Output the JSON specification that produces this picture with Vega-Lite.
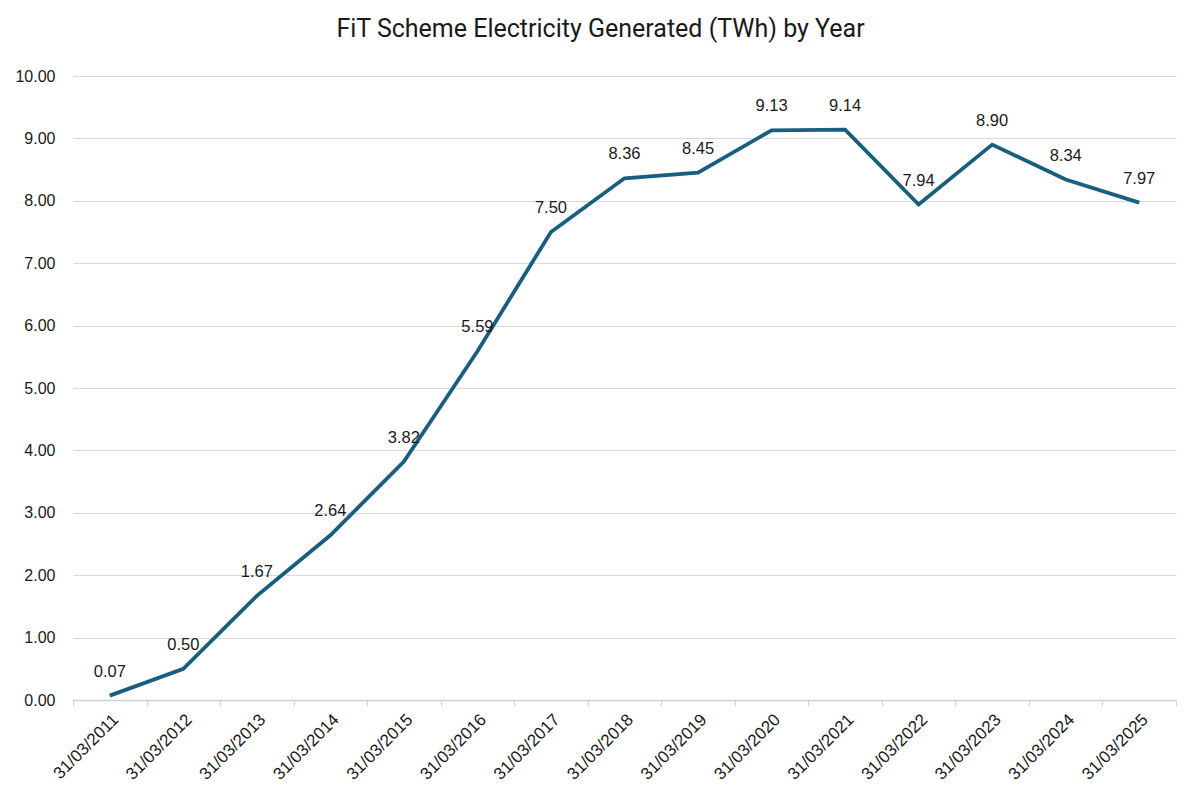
{
  "$schema": "https://vega.github.io/schema/vega-lite/v6.json",
  "autosize": "none",
  "width": 1103,
  "height": 624,
  "padding": {"left": 73, "top": 76, "right": 24, "bottom": 102},
  "background": "white",
  "title": {
    "text": "FiT Scheme Electricity Generated (TWh) by Year",
    "font": "Liberation Sans Narrow, Roboto",
    "fontSize": 25,
    "fontWeight": "normal",
    "color": "#1a1a1a",
    "anchor": "middle",
    "dx": -24,
    "offset": 26
  },
  "data": {
    "values": [
      {"date": "31/03/2011", "twh": 0.07},
      {"date": "31/03/2012", "twh": 0.50},
      {"date": "31/03/2013", "twh": 1.67},
      {"date": "31/03/2014", "twh": 2.64},
      {"date": "31/03/2015", "twh": 3.82},
      {"date": "31/03/2016", "twh": 5.59},
      {"date": "31/03/2017", "twh": 7.50},
      {"date": "31/03/2018", "twh": 8.36},
      {"date": "31/03/2019", "twh": 8.45},
      {"date": "31/03/2020", "twh": 9.13},
      {"date": "31/03/2021", "twh": 9.14},
      {"date": "31/03/2022", "twh": 7.94},
      {"date": "31/03/2023", "twh": 8.90},
      {"date": "31/03/2024", "twh": 8.34},
      {"date": "31/03/2025", "twh": 7.97}
    ]
  },
  "encoding": {
    "x": {
      "field": "date",
      "type": "ordinal",
      "sort": null,
      "bandPosition": 0.5,
      "scale": {"type": "band", "paddingInner": 0, "paddingOuter": 0},
      "axis": {
        "title": null,
        "labelAngle": -45,
        "labelFont": "Liberation Sans",
        "labelFontSize": 17,
        "labelColor": "#1a1a1a",
        "labelPadding": 5,
        "tickBand": "extent",
        "tickColor": "#d0d0d0",
        "tickSize": 6,
        "domainColor": "#d0d0d0",
        "domainWidth": 1.5,
        "grid": false
      }
    },
    "y": {
      "field": "twh",
      "type": "quantitative",
      "scale": {"domain": [0, 10], "nice": false},
      "axis": {
        "title": null,
        "values": [0, 1, 2, 3, 4, 5, 6, 7, 8, 9, 10],
        "format": ".2f",
        "labelFont": "Liberation Sans",
        "labelFontSize": 16,
        "labelColor": "#1a1a1a",
        "labelPadding": 18,
        "ticks": false,
        "domain": false,
        "gridColor": "#d9d9d9",
        "gridWidth": 1.2
      }
    }
  },
  "layer": [
    {
      "mark": {"type": "line", "color": "#195e7f", "strokeWidth": 3.8, "strokeJoin": "miter"}
    },
    {
      "mark": {"type": "text", "dy": -24, "font": "Liberation Sans", "fontSize": 16.5, "color": "#1a1a1a"},
      "encoding": {
        "text": {"field": "twh", "type": "quantitative", "format": ".2f"}
      }
    }
  ],
  "config": {
    "view": {"stroke": null}
  }
}
